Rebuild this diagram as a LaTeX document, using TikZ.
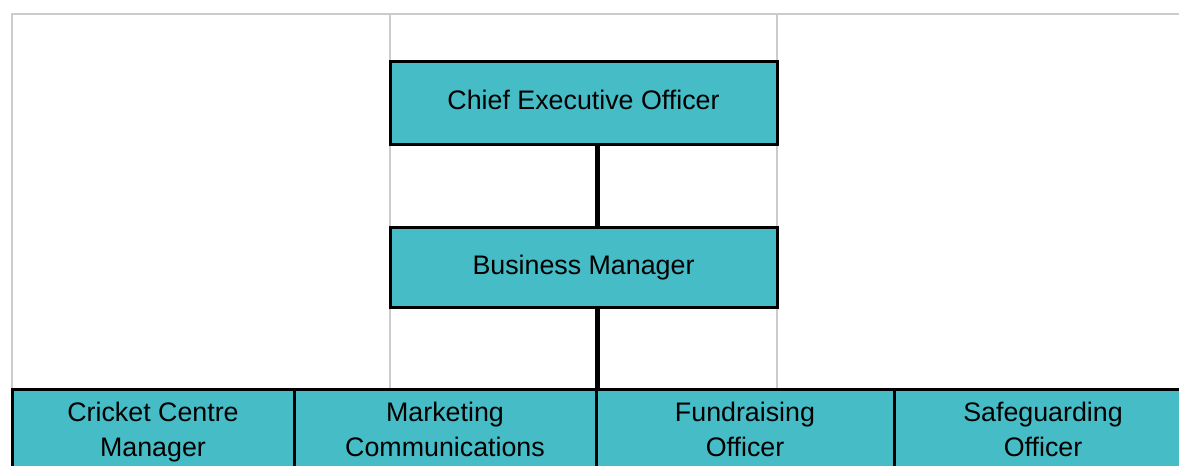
\documentclass[tikz,border=0pt]{standalone}
\usepackage{fontspec}
\setmainfont{Liberation Sans}
\usetikzlibrary{calc}

\definecolor{chartteal}{RGB}{70,188,198}
\definecolor{gridgray}{RGB}{204,204,204}

\begin{document}
\begin{tikzpicture}[x=1pt,y=-1pt,
    post/.style={rectangle,draw=black,line width=3pt,fill=chartteal,inner sep=0pt,
      font=\fontsize{26.8}{35}\selectfont,align=center},
    top post/.style={post,minimum width=387pt,minimum height=83pt},
    low post/.style={post,minimum height=86pt},
    link/.style={line width=5pt},
    grid/.style={gridgray,line width=2.5pt}]
  \useasboundingbox (0,0) rectangle (1179,466);
  \clip (0,0) rectangle (1179,466);

  % sheet cells behind the chart
  \draw[grid] (12,389) -- (12,14) -- (1179,14);
  \draw[grid] (390,14) -- (390,389) (777,14) -- (777,389);

  \node[top post] (ceo) at (583.5,102.5) {Chief Executive Officer\strut};
  \node[top post,minimum height=80pt] (bm) at (583.5,267) {Business Manager\strut};

  \node[low post,minimum width=282pt] (ccm) at (153,432) {Cricket Centre\strut\\Manager\strut};
  \node[low post,minimum width=302pt] (mc) at (445,432) {Marketing\strut\\Communications\strut};
  \node[low post,minimum width=298pt] (fo) at (745,432) {Fundraising\strut\\Officer\strut};
  \node[low post,minimum width=298pt] (so) at (1043,432) {Safeguarding\strut\\Officer\strut};

  \coordinate (spine) at (597,0);
  \path[link] (spine |- ceo.south) edge (spine |- bm.north);
  \path[link] (spine |- bm.south) edge (spine |- fo.north);
\end{tikzpicture}
\end{document}
